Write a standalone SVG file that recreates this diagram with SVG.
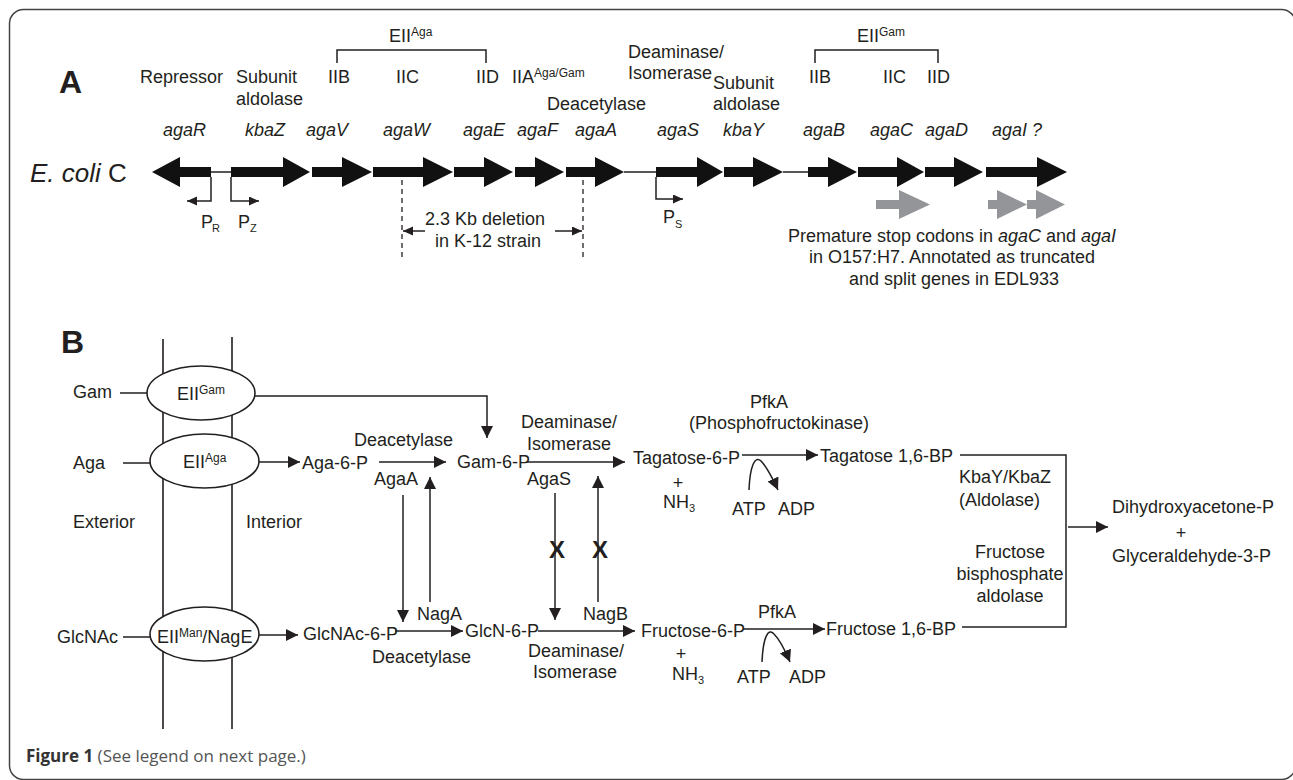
<svg xmlns="http://www.w3.org/2000/svg" width="1293" height="780" viewBox="0 0 1293 780">
<style>
text{font-family:"Liberation Sans",Arial,Helvetica,sans-serif;font-size:18px;fill:#231f20}
.it{font-style:italic}
.sup{font-size:12px}
.sub{font-size:11px}
.big{font-size:32px;font-weight:bold}
.x{font-size:24px;font-weight:bold}
.cap{font-family:"Open Sans","Noto Sans",sans-serif;font-size:17px;fill:#555}
.capb{font-weight:bold;fill:#333}
.gene{fill:#111}
.gray{fill:#939598}
.ln{fill:none;stroke:#231f20;stroke-width:1.5}
.dash{fill:none;stroke:#231f20;stroke-width:1.3;stroke-dasharray:5,4}
.mem{fill:none;stroke:#231f20;stroke-width:1.6}
.ell{fill:#fff;stroke:#231f20;stroke-width:1.6}
.arr{marker-end:url(#ah)}
.arrs{marker-end:url(#ahs)}
</style>
<defs>
<marker id="ah" markerUnits="userSpaceOnUse" markerWidth="13" markerHeight="13" refX="12" refY="6" orient="auto"><path d="M0,0 L12,6 L0,12 z" fill="#231f20"/></marker>
<marker id="ahs" markerUnits="userSpaceOnUse" markerWidth="11" markerHeight="10" refX="10" refY="4.5" orient="auto"><path d="M0,0 L10,4.5 L0,9 z" fill="#231f20"/></marker>
</defs>
<rect x="9.5" y="9.5" width="1286" height="770" rx="14" fill="none" stroke="#444" stroke-width="1.5"/>

<!-- Panel A -->
<g id="labelA"><text class="big" x="59" y="93">A</text></g>
<g id="strain"><text x="30" y="182" style="font-size:26px"><tspan class="it">E. coli</tspan> C</text></g>

<g id="connectorsA">
<path class="ln" d="M211,172 H231 M624,172 H656 M783,172 H808"/>
<path class="ln" d="M337,63 V50 H486 V63"/>
<path class="ln" d="M815,63 V50 H938 V63"/>
<path class="ln arrs" d="M211,177 V201 H187"/>
<path class="ln arrs" d="M231,177 V201 H259"/>
<path class="ln arrs" d="M656,177 V199 H683"/>
<path class="dash" d="M402,180 V257 M583,180 V257"/>
<path class="ln arrs" d="M425,231 H403"/>
<path class="ln arrs" d="M555,231 H582"/>
</g>

<g id="gene-agaR"><polygon class="gene" points="211,167 180,167 180,157 152,172 180,187 180,177 211,177"/><text class="it" x="163" y="136">agaR</text><text x="140" y="83">Repressor</text></g>
<g id="gene-kbaZ"><polygon class="gene" points="231,167 283,167 283,157 310,172 283,187 283,177 231,177"/><text class="it" x="245" y="136">kbaZ</text><text x="236" y="83">Subunit</text><text x="236" y="105">aldolase</text></g>
<g id="gene-agaV"><polygon class="gene" points="312,167 342,167 342,157 372,172 342,187 342,177 312,177"/><text class="it" x="306" y="136">agaV</text><text x="328" y="83">IIB</text></g>
<g id="gene-agaW"><polygon class="gene" points="373,167 423,167 423,157 453,172 423,187 423,177 373,177"/><text class="it" x="383" y="136">agaW</text><text x="396" y="83">IIC</text></g>
<g id="gene-agaE"><polygon class="gene" points="454,167 484,167 484,157 513,172 484,187 484,177 454,177"/><text class="it" x="463" y="136">agaE</text><text x="476" y="83">IID</text></g>
<g id="gene-agaF"><polygon class="gene" points="515,167 535,167 535,157 564,172 535,187 535,177 515,177"/><text class="it" x="517" y="136">agaF</text><text x="512" y="83">IIA<tspan class="sup" dy="-6">Aga/Gam</tspan></text></g>
<g id="gene-agaA"><polygon class="gene" points="566,167 595,167 595,157 624,172 595,187 595,177 566,177"/><text class="it" x="575" y="136">agaA</text><text x="547" y="110">Deacetylase</text></g>
<g id="gene-agaS"><polygon class="gene" points="656,167 697,167 697,157 723,172 697,187 697,177 656,177"/><text class="it" x="657" y="136">agaS</text><text x="628" y="58">Deaminase/</text><text x="628" y="79">Isomerase</text></g>
<g id="gene-kbaY"><polygon class="gene" points="724,167 753,167 753,157 783,172 753,187 753,177 724,177"/><text class="it" x="723" y="136">kbaY</text><text x="713" y="89">Subunit</text><text x="713" y="110">aldolase</text></g>
<g id="gene-agaB"><polygon class="gene" points="808,167 828,167 828,157 857,172 828,187 828,177 808,177"/><text class="it" x="803" y="136">agaB</text><text x="809" y="83">IIB</text></g>
<g id="gene-agaC"><polygon class="gene" points="858,167 897,167 897,157 924,172 897,187 897,177 858,177"/><text class="it" x="870" y="136">agaC</text><text x="883" y="83">IIC</text></g>
<g id="gene-agaD"><polygon class="gene" points="925,167 954,167 954,157 983,172 954,187 954,177 925,177"/><text class="it" x="925" y="136">agaD</text><text x="927" y="83">IID</text></g>
<g id="gene-agaI"><polygon class="gene" points="986,167 1037,167 1037,157 1067,172 1037,187 1037,177 986,177"/><text class="it" x="992" y="136">agaI ?</text></g>

<g id="EIIAga-label"><text x="389" y="42">EII<tspan class="sup" dy="-6">Aga</tspan></text></g>
<g id="EIIGam-label"><text x="857" y="42">EII<tspan class="sup" dy="-6">Gam</tspan></text></g>

<g id="promoters">
<text x="201" y="228">P</text><text class="sub" x="212" y="232">R</text>
<text x="238" y="228">P</text><text class="sub" x="250" y="232">Z</text>
<text x="663" y="223">P</text><text class="sub" x="675" y="228">S</text>
</g>
<g id="deletion"><text x="425" y="225">2.3 Kb deletion</text><text x="435" y="247">in K-12 strain</text></g>

<g id="truncated">
<polygon class="gray" points="876,200 899,200 899,190 930,204.5 899,219 899,209 876,209"/>
<polygon class="gray" points="988,200 997,200 997,190 1027,204.5 997,219 997,209 988,209"/>
<polygon class="gray" points="1027,200 1036,200 1036,190 1065,204.5 1036,219 1036,209 1027,209"/>
<text x="952" y="242" text-anchor="middle">Premature stop codons in <tspan class="it">agaC</tspan> and <tspan class="it">agaI</tspan></text>
<text x="952" y="263" text-anchor="middle">in O157:H7. Annotated as truncated</text>
<text x="954" y="285" text-anchor="middle">and split genes in EDL933</text>
</g>

<!-- Panel B -->
<g id="labelB"><text class="big" x="61" y="353">B</text></g>
<g id="membrane"><path class="mem" d="M163,339 V729 M232,337 V729"/></g>

<g id="connectorsB">
<path class="ln" d="M120,393 H147 M123,463 H150 M123,637 H150"/>
<path class="ln arr" d="M255,396 H487 V438"/>
<path class="ln arr" d="M259,462 H300"/>
<path class="ln arr" d="M379,462 H446"/>
<path class="ln arr" d="M403,495 V622"/>
<path class="ln arr" d="M430,602 V477"/>
<path class="ln arr" d="M527,462 H625"/>
<path class="ln arr" d="M555,493 V620"/>
<path class="ln arr" d="M598,602 V476"/>
<path class="ln arr" d="M742,455 H818"/>
<path class="ln arr" d="M749,490 C750,466 755,455 761,461 C767,467 772,477 778,490"/>
<path class="ln" d="M960,455 H1066 V627 H962"/>
<path class="ln arr" d="M1068,527 H1108"/>
<path class="ln arr" d="M259,635 H298"/>
<path class="ln arr" d="M395,631 H463"/>
<path class="ln arr" d="M538,631 H635"/>
<path class="ln arr" d="M743,629 H825"/>
<path class="ln arr" d="M762,662 C763,638 768,627 774,634 C780,640 785,650 790,662"/>
</g>

<g id="Gam"><text x="73" y="398">Gam</text></g>
<g id="Aga"><text x="73" y="469">Aga</text></g>
<g id="GlcNAc"><text x="57" y="643">GlcNAc</text></g>
<g id="sides"><text x="73" y="528">Exterior</text><text x="246" y="528">Interior</text></g>

<g id="EIIGam"><ellipse class="ell" cx="201" cy="393" rx="54" ry="27"/><text x="177" y="400">EII<tspan class="sup" dy="-6">Gam</tspan></text></g>
<g id="EIIAga"><ellipse class="ell" cx="204.5" cy="461" rx="54.5" ry="27"/><text x="183" y="468">EII<tspan class="sup" dy="-6">Aga</tspan></text></g>
<g id="EIIMan"><ellipse class="ell" cx="204.5" cy="634" rx="54.5" ry="27"/><text x="157" y="643">EII<tspan class="sup" dy="-6">Man</tspan><tspan dy="6">/NagE</tspan></text></g>

<g id="Aga6P"><text x="302" y="469">Aga-6-P</text></g>
<g id="AgaA-enz"><text x="354" y="446">Deacetylase</text><text x="374" y="485">AgaA</text></g>
<g id="NagA"><text x="417" y="620">NagA</text></g>
<g id="Gam6P"><text x="457" y="468">Gam-6-P</text></g>
<g id="AgaS-enz"><text x="521" y="428">Deaminase/</text><text x="527" y="450">Isomerase</text><text x="527" y="485">AgaS</text></g>
<g id="NagB"><text x="583" y="620">NagB</text></g>
<g id="blocks"><text class="x" x="557" y="558" text-anchor="middle">X</text><text class="x" x="600" y="558" text-anchor="middle">X</text></g>
<g id="Tag6P"><text x="633" y="464">Tagatose-6-P</text><text x="678" y="489" text-anchor="middle">+</text><text x="663" y="508">NH<tspan class="sub" dy="4">3</tspan></text></g>
<g id="PfkA1"><text x="750" y="408">PfkA</text><text x="689" y="429">(Phosphofructokinase)</text><text x="732" y="515">ATP</text><text x="778" y="515">ADP</text></g>
<g id="Tag16BP"><text x="820" y="462">Tagatose 1,6-BP</text></g>
<g id="aldolases"><text x="959" y="483">KbaY/KbaZ</text><text x="959" y="506">(Aldolase)</text><text x="1010" y="558" text-anchor="middle">Fructose</text><text x="1010" y="580" text-anchor="middle">bisphosphate</text><text x="1010" y="602" text-anchor="middle">aldolase</text></g>
<g id="products"><text x="1112" y="513">Dihydroxyacetone-P</text><text x="1181" y="539" text-anchor="middle">+</text><text x="1112" y="562">Glyceraldehyde-3-P</text></g>
<g id="GlcNAc6P"><text x="303" y="640">GlcNAc-6-P</text><text x="372" y="663">Deacetylase</text></g>
<g id="GlcN6P"><text x="465" y="637">GlcN-6-P</text><text x="528" y="657">Deaminase/</text><text x="533" y="678">Isomerase</text></g>
<g id="Fru6P"><text x="641" y="637">Fructose-6-P</text><text x="681" y="660" text-anchor="middle">+</text><text x="672" y="680">NH<tspan class="sub" dy="4">3</tspan></text></g>
<g id="PfkA2"><text x="758" y="618">PfkA</text><text x="737" y="683">ATP</text><text x="789" y="683">ADP</text></g>
<g id="Fru16BP"><text x="826" y="635">Fructose 1,6-BP</text></g>

<g id="caption"><text class="cap" x="26" y="762"><tspan class="capb">Figure 1</tspan> (See legend on next page.)</text></g>
</svg>
